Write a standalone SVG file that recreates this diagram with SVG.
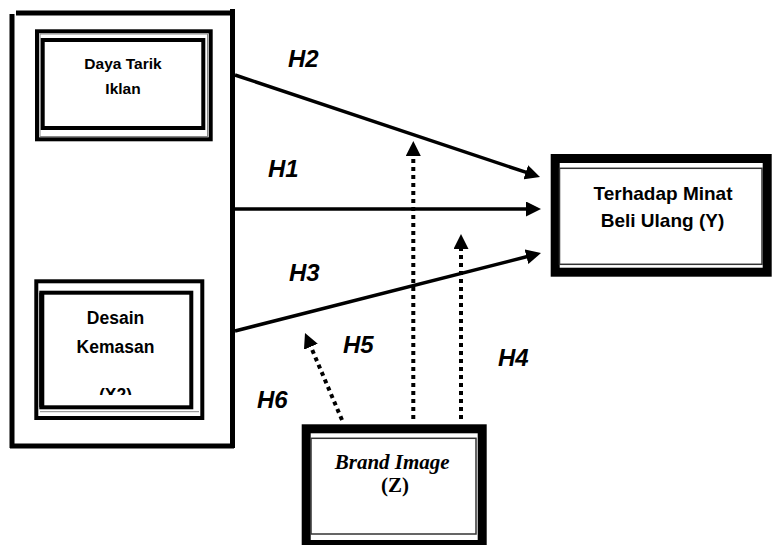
<svg xmlns="http://www.w3.org/2000/svg" width="772" height="545" viewBox="0 0 772 545">
<style>
.frame{stroke:#000;stroke-width:5;fill:none}
.box{fill:#fff;stroke:#000;stroke-width:4}
.thin{fill:none;stroke:#888;stroke-width:1}
.thick{fill:#fff;stroke:#000;stroke-width:9}
.inner{fill:none;stroke:#333;stroke-width:1.5}
.lbl{font-family:"Liberation Sans",Arial,sans-serif;font-weight:bold;text-anchor:middle;fill:#000}
.h{font-family:"Liberation Sans",Arial,sans-serif;font-weight:bold;font-style:italic;font-size:24px;fill:#000}
.ser{font-family:"Liberation Serif","Times New Roman",serif;font-weight:bold;text-anchor:middle;font-size:21px;fill:#000}
.solid{stroke:#000;stroke-width:3.5;fill:none}
.dot{stroke:#000;stroke-width:4;fill:none;stroke-dasharray:4 4}
</style>
<defs>
<marker id="ah" markerUnits="userSpaceOnUse" markerWidth="15" markerHeight="15" refX="3" refY="7.5" orient="auto" viewBox="0 0 15 15">
<path d="M0,0 L15,7.5 L0,15 z" fill="#000"/>
</marker>
<clipPath id="clipX2"><rect x="40" y="290" width="150" height="105"/></clipPath>
</defs>
<rect width="772" height="545" fill="#fff"/>
<g id="frame">
<line class="frame" x1="12" y1="14" x2="12" y2="448"/>
<line class="frame" x1="16" y1="13" x2="233" y2="13"/>
<line class="frame" x1="232.5" y1="9" x2="232.5" y2="448"/>
<line class="frame" x1="10" y1="446" x2="234" y2="446"/>
</g>
<g id="node-daya-tarik">
<rect class="box" x="37" y="31.3" width="173.7" height="108"/>
<rect class="thin" x="40" y="34" width="167.5" height="102.5"/>
<rect class="box" x="42.7" y="40" width="160.6" height="88"/>
<text class="lbl" font-size="15.5" x="123" y="69">Daya Tarik</text>
<text class="lbl" font-size="15.5" x="123" y="94">Iklan</text>
</g>
<g id="node-desain">
<rect class="box" x="36.3" y="281.3" width="166" height="136.7"/>
<line class="thin" x1="40" y1="411.7" x2="199" y2="411.7"/>
<rect class="box" x="41.3" y="292.7" width="150" height="114.6"/>
<line x1="41.8" y1="292.7" x2="41.8" y2="407.3" stroke="#000" stroke-width="5"/>
<text class="lbl" font-size="17.5" x="115.5" y="324">Desain</text>
<text class="lbl" font-size="17.5" x="115.5" y="352.7">Kemasan</text>
<text class="lbl" font-size="17.5" x="115.5" y="401" clip-path="url(#clipX2)">(X2)</text>
</g>
<g id="node-minat">
<rect class="thick" x="555.2" y="158.5" width="212" height="113.7"/>
<rect class="inner" x="559.5" y="168.3" width="202.5" height="96"/>
<text class="lbl" font-size="19" x="663" y="200">Terhadap Minat</text>
<text class="lbl" font-size="19" x="662.5" y="227.3">Beli Ulang (Y)</text>
</g>
<g id="node-brand">
<rect class="thick" x="306.2" y="428.8" width="176" height="115.7"/>
<rect class="inner" x="311" y="438.3" width="165" height="95.7"/>
<text class="ser" font-style="italic" x="392.2" y="469.3">Brand Image</text>
<text class="ser" x="395" y="492">(Z)</text>
</g>
<g id="connectors">
<line class="solid" x1="235" y1="75" x2="528.6" y2="173.2" marker-end="url(#ah)"/>
<line class="solid" x1="235" y1="209" x2="529" y2="209" marker-end="url(#ah)"/>
<line class="solid" x1="235" y1="331" x2="529.4" y2="256" marker-end="url(#ah)"/>
<line class="dot" x1="413.3" y1="419" x2="413.3" y2="153" marker-end="url(#ah)"/>
<line class="dot" x1="461" y1="419" x2="461" y2="246" marker-end="url(#ah)"/>
<line class="dot" x1="342" y1="420" x2="309.7" y2="344" marker-end="url(#ah)"/>
</g>
<g id="labels">
<text class="h" x="288" y="67">H2</text>
<text class="h" x="268" y="177">H1</text>
<text class="h" x="289" y="281">H3</text>
<text class="h" x="343" y="353">H5</text>
<text class="h" x="498" y="366">H4</text>
<text class="h" x="257" y="408">H6</text>
</g>
</svg>
